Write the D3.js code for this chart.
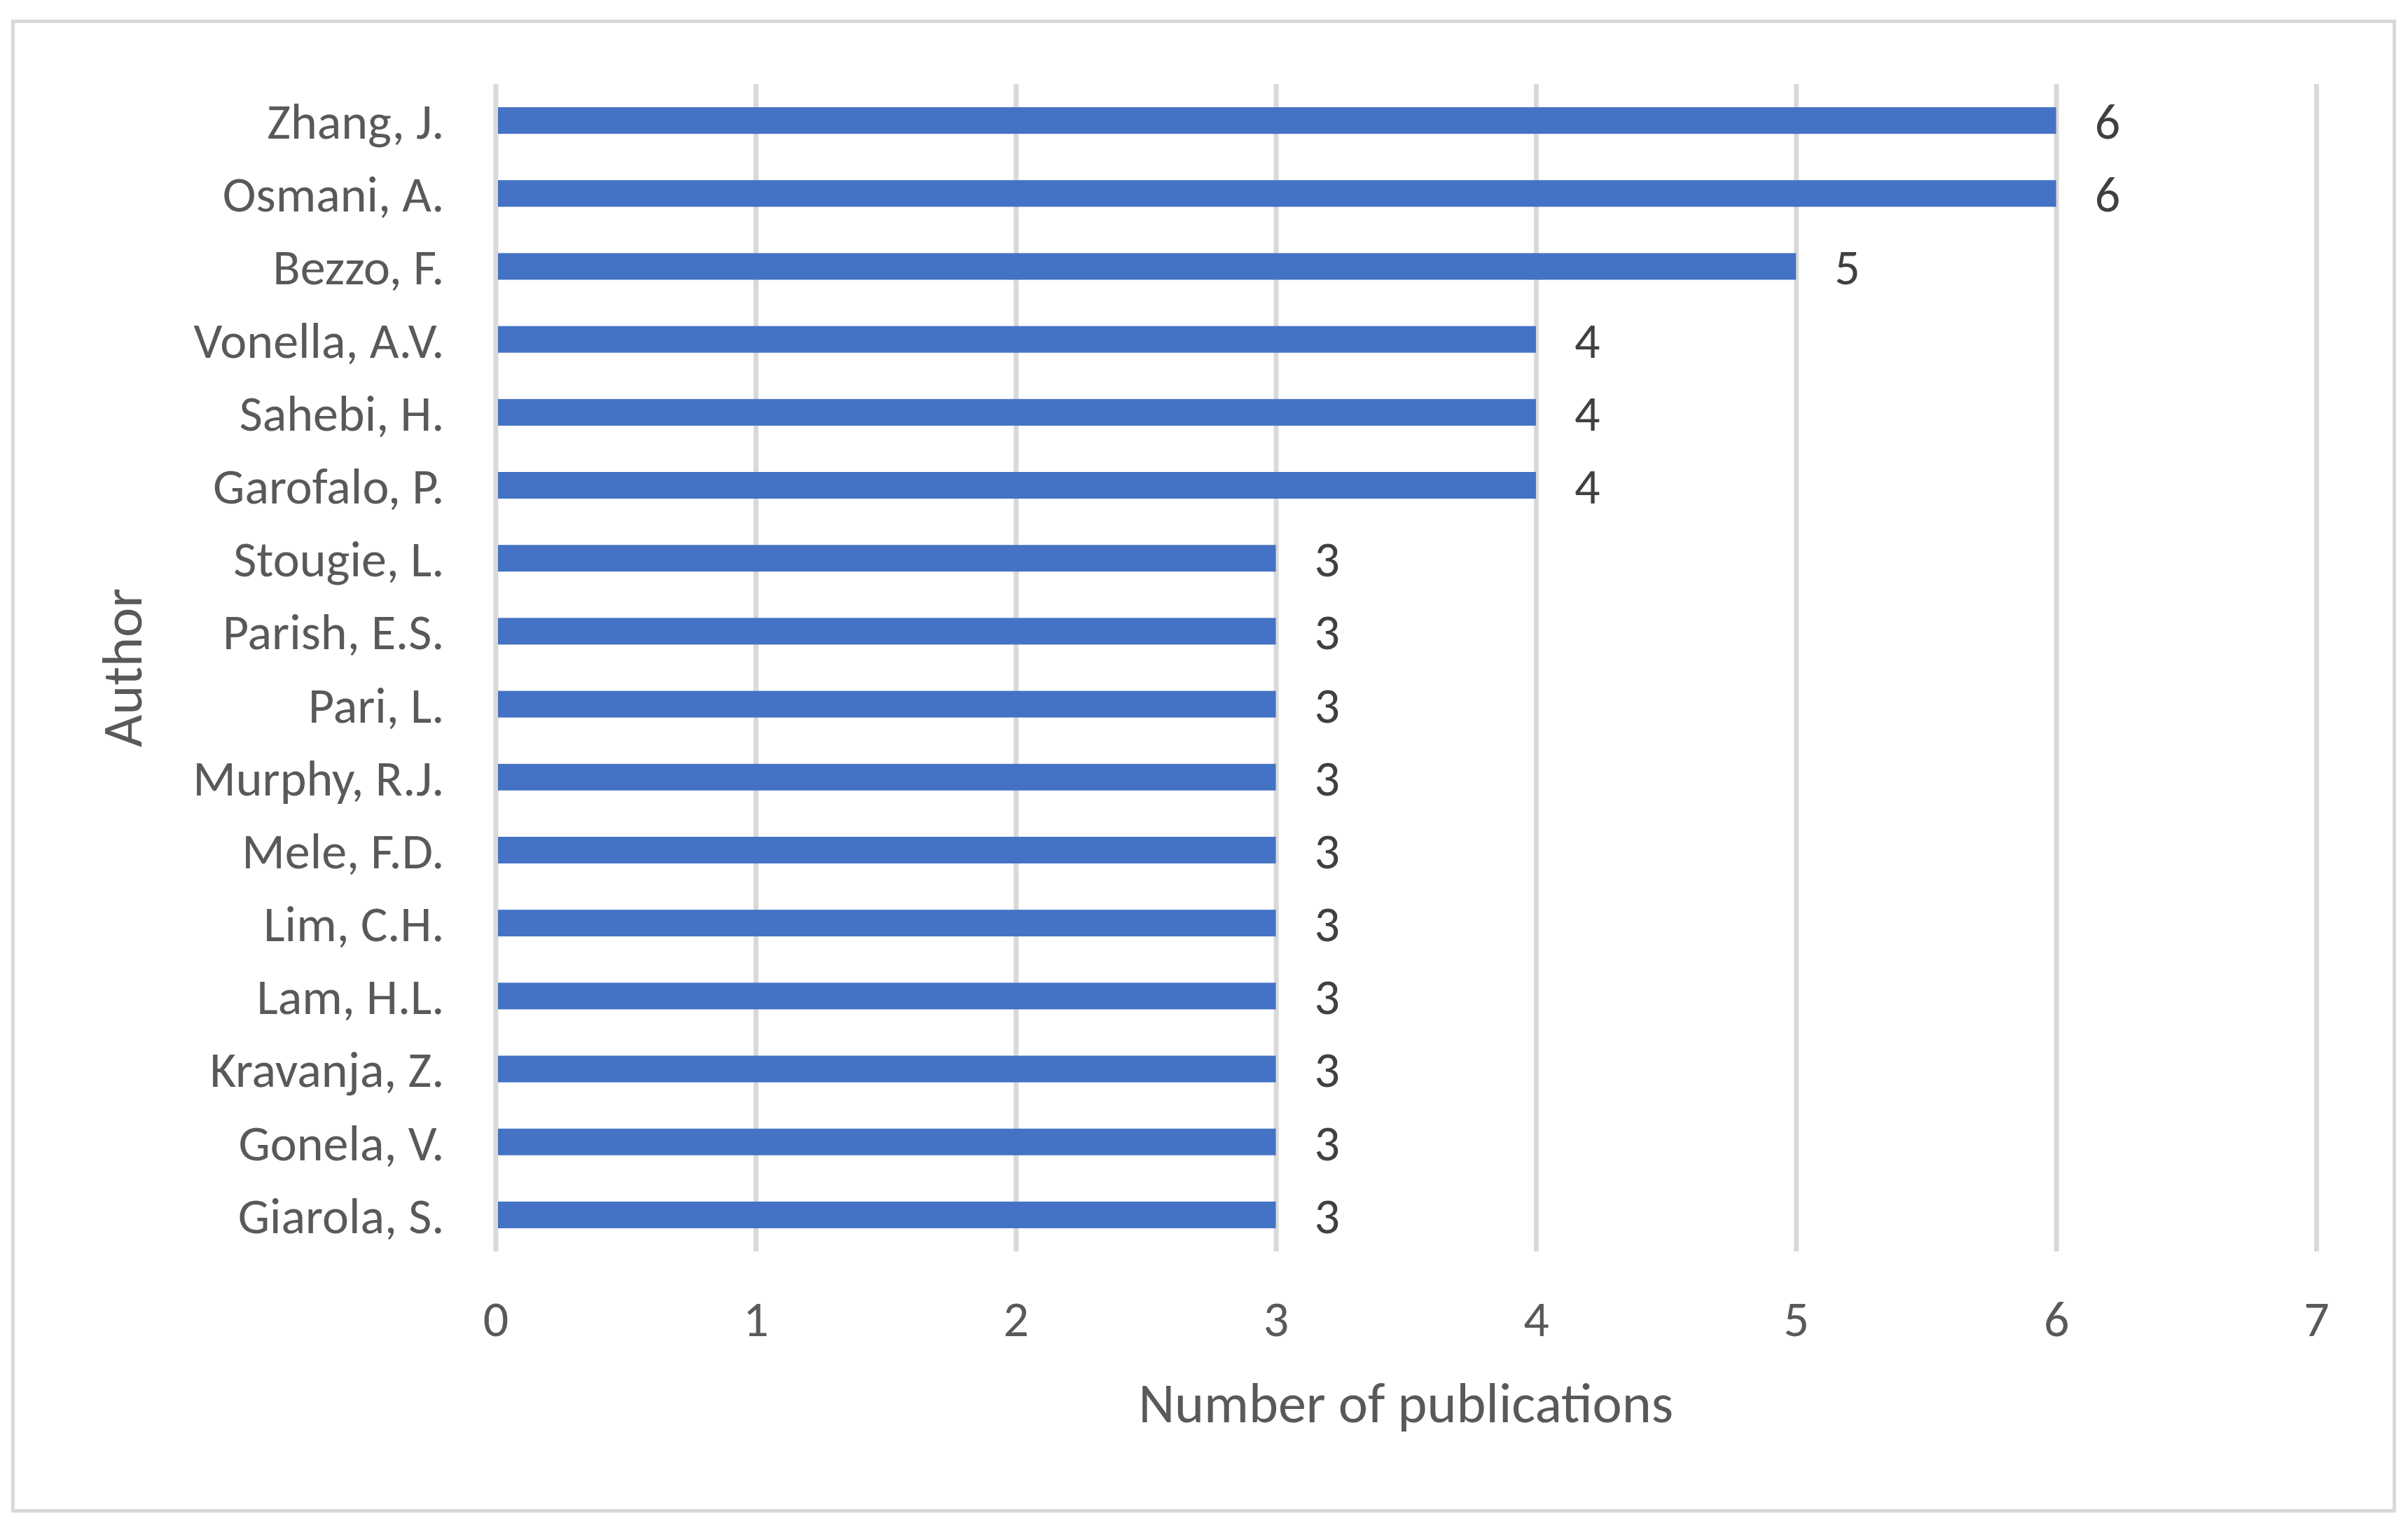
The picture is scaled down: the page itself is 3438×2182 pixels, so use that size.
<!DOCTYPE html>
<html>
<head>
<meta charset="utf-8">
<script src="https://cdn.jsdelivr.net/npm/d3@7"></script>
<style>
	body { margin: 0; background: #fff; }
	svg { display: block; font-family: Carlito, Calibri, Lato, sans-serif; }
</style>
</head>
<body>
<svg id="chart"></svg>
<script>
const authors = ['Zhang, J.', 'Osmani, A.', 'Bezzo, F.', 'Vonella, A.V.', 'Sahebi, H.', 'Garofalo, P.', 'Stougie, L.', 'Parish, E.S.', 'Pari, L.', 'Murphy, R.J.', 'Mele, F.D.', 'Lim, C.H.', 'Lam, H.L.', 'Kravanja, Z.', 'Gonela, V.', 'Giarola, S.'];
const publications = [6, 6, 5, 4, 4, 4, 3, 3, 3, 3, 3, 3, 3, 3, 3, 3];
const xTicks = [0, 1, 2, 3, 4, 5, 6, 7];
const xTitle = 'Number of publications';
const yTitle = 'Author';

const width = 3438;
const height = 2182;
const plot = { left: 707.5, right: 3307, top: 120, bottom: 1787 };
const labelSize = '72px';
const titleSize = '80px';

const svg = d3.select('#chart')
	.attr('width', width)
	.attr('height', height);

svg.append('rect')
	.attr('width', width)
	.attr('height', height)
	.style('fill', '#fff');

// chart area frame
svg.append('rect')
	.attr('x', 18.5)
	.attr('y', 30.5)
	.attr('width', 3400)
	.attr('height', 2127)
	.style('fill', 'none')
	.style('stroke', '#D9D9D9')
	.style('stroke-width', 5);

const x = d3.scaleLinear([0, 7], [plot.left, plot.right]);
const y = d3.scaleBand(authors, [plot.top, plot.bottom])
	.paddingInner(0.635)
	.paddingOuter(0.3175);

const data = authors.map((d, i) => ({ author: d, value: publications[i] }));

// gridlines + tick labels
const xAxis = svg.append('g')
	.attr('class', 'x-axis')
	.attr('transform', `translate(0,${plot.bottom})`)
	.call(d3.axisBottom(x)
		.tickValues(xTicks)
		.tickSize(-(plot.bottom - plot.top))
		.tickPadding(70)
		.tickFormat(d3.format('d')));
xAxis.attr('font-family', null).attr('font-size', null);
xAxis.select('.domain').remove();
xAxis.selectAll('line')
	.style('stroke', '#D9D9D9')
	.style('stroke-width', 7);
xAxis.selectAll('text')
	.style('font-size', labelSize)
	.style('fill', '#595959');

svg.append('g')
	.attr('class', 'bars')
	.selectAll('rect')
	.data(data)
	.join('rect')
	.attr('x', x(0) + 3.5)
	.attr('y', d => y(d.author))
	.attr('width', d => x(d.value) - x(0) - 3.5)
	.attr('height', y.bandwidth())
	.style('fill', '#4472C4');

const yAxis = svg.append('g')
	.attr('class', 'y-axis')
	.attr('transform', `translate(${plot.left},0)`)
	.call(d3.axisLeft(y)
		.tickSize(0)
		.tickPadding(73));
yAxis.attr('font-family', null).attr('font-size', null);
yAxis.select('.domain').remove();
yAxis.selectAll('text')
	.attr('dy', '0.36em')
	.style('font-size', labelSize)
	.style('fill', '#595959');

svg.append('g')
	.attr('class', 'labels')
	.selectAll('text')
	.data(data)
	.join('text')
	.attr('x', d => x(d.value) + 55)
	.attr('y', d => y(d.author) + y.bandwidth() / 2)
	.attr('dy', '0.36em')
	.style('font-size', labelSize)
	.style('fill', '#404040')
	.text(d => d.value);

svg.append('text')
	.attr('x', (plot.left + plot.right) / 2)
	.attr('y', 2031)
	.attr('text-anchor', 'middle')
	.style('font-size', titleSize)
	.style('fill', '#595959')
	.text(xTitle);

svg.append('text')
	.attr('transform', `translate(202,${(plot.top + plot.bottom) / 2}) rotate(-90)`)
	.attr('text-anchor', 'middle')
	.style('font-size', titleSize)
	.style('fill', '#595959')
	.text(yTitle);
</script>
</body>
</html>
